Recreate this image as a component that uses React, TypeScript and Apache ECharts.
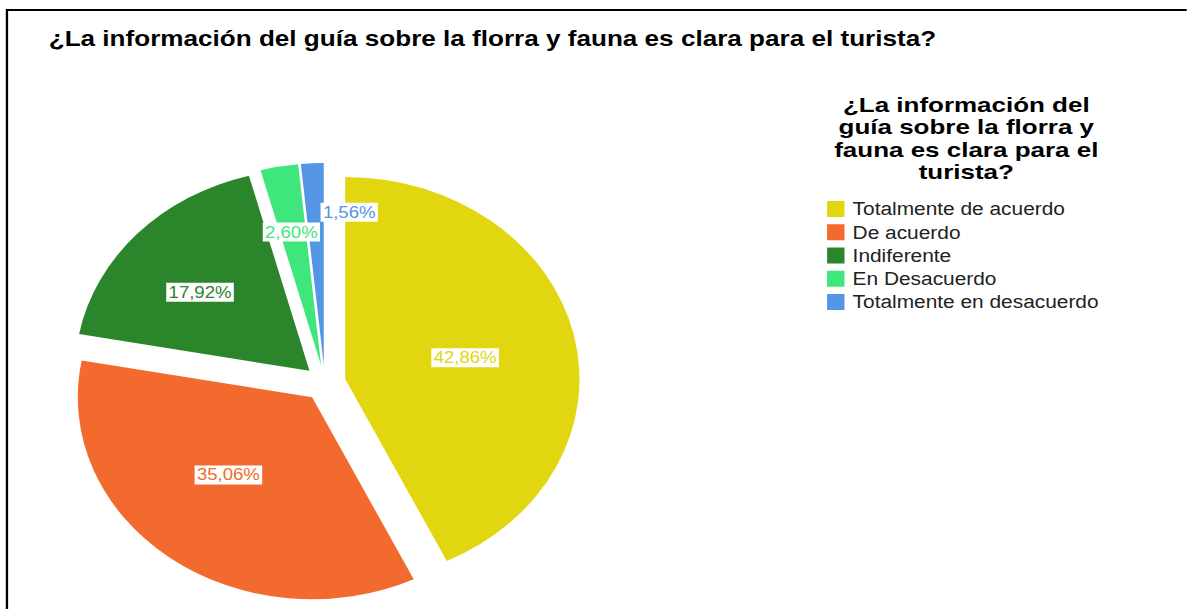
import React, { useEffect, useRef } from 'react';
import * as echarts from 'echarts';

const titleText = '¿La información del guía sobre la florra y fauna es clara para el turista?';
const legendTitle = '¿La información del\nguía sobre la florra y\nfauna es clara para el\nturista?';
const categories = ['Totalmente de acuerdo', 'De acuerdo', 'Indiferente', 'En Desacuerdo', 'Totalmente en desacuerdo'];
const percentages = [42.86, 35.06, 17.92, 2.6, 1.56];
const sliceColors = ['#E2D611', '#F26A2E', '#2A852B', '#3FE67B', '#5495E4'];
const labelNudges = [[2, 2], [-9, -5], [-18, -8], [-7, -31], [27, -49]];

const S = 1.16;
const W = Math.round(1187 / S);
const H = 609;
const FONT = '"Liberation Sans", Arial, sans-serif';

export default function App() {
  const ref = useRef<HTMLDivElement>(null);
  useEffect(() => {
    if (!ref.current) return;
    const chart = echarts.init(ref.current, undefined, { renderer: 'svg' });
    chart.setOption({
      animation: false,
      backgroundColor: '#fff',
      title: [
        {
          text: titleText,
          left: 37,
          top: 22,
          textStyle: { fontFamily: FONT, fontSize: 22.5, fontWeight: 'bold', color: '#000' },
        },
      ],
      graphic: [
        {
          type: 'rect',
          shape: { x: 6, y: 10, width: 3000, height: 3000 },
          style: { fill: 'none', stroke: '#000', lineWidth: 2 },
          silent: true,
        },
        {
          type: 'text',
          x: 833,
          y: 94,
          scaleX: 1.12,
          silent: true,
          style: {
            text: legendTitle,
            font: `bold 20px ${FONT}`,
            fill: '#000',
            align: 'center',
            verticalAlign: 'top',
            lineHeight: 22.4,
          },
        },
      ],
      legend: {
        orient: 'vertical',
        left: 708,
        top: 195,
        itemWidth: 15,
        itemHeight: 16,
        itemGap: 5.25,
        icon: 'rect',
        selectedMode: false,
        data: categories,
        textStyle: { fontFamily: FONT, fontSize: 18, color: '#222', padding: [0, 0, 0, 2] },
      },
      series: [
        {
          type: 'pie',
          center: [280, 383],
          radius: 202,
          startAngle: 90,
          clockwise: true,
          selectedMode: 'multiple',
          selectedOffset: 18,
          emphasis: { disabled: true },
          labelLine: { show: false },
          label: {
            show: true,
            position: 'inside',
            fontFamily: FONT,
            fontSize: 16,
            backgroundColor: '#fff',
            padding: [2, 2, 1, 2],
            formatter: (p: any) => p.value.toFixed(2).replace('.', ',') + '%',
          },
          labelLayout: (p: any) => ({ dx: labelNudges[p.dataIndex][0], dy: labelNudges[p.dataIndex][1] }),
          data: categories.map((name, i) => ({
            name,
            value: percentages[i],
            selected: true,
            itemStyle: { color: sliceColors[i] },
            label: { color: sliceColors[i] },
          })),
        },
      ],
    });
    return () => chart.dispose();
  }, []);
  return (
    <div
      ref={ref}
      style={{
        position: 'fixed',
        left: 0,
        top: 0,
        width: W,
        height: H,
        transform: `scaleX(${S})`,
        transformOrigin: 'left top',
      }}
    />
  );
}
